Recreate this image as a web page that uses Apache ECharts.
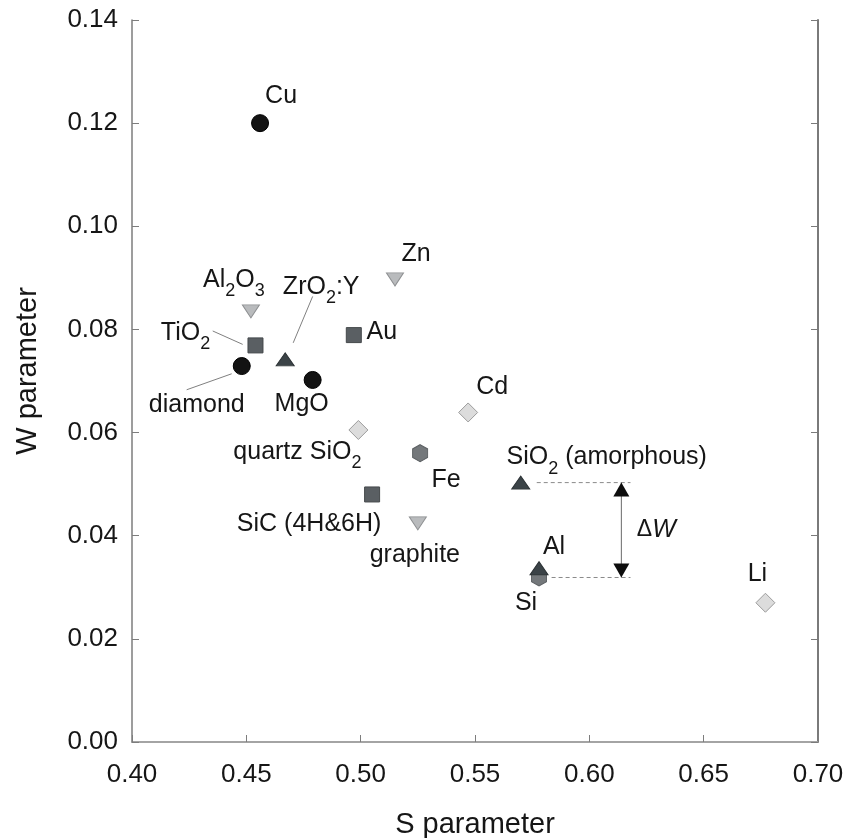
<!DOCTYPE html>
<html>
<head>
<meta charset="utf-8">
<script src="https://cdn.jsdelivr.net/npm/echarts@6/dist/echarts.min.js"></script>
<style>
  html, body { margin: 0; padding: 0; background: #ffffff; }
  #chart { width: 845px; height: 838px; }
</style>
</head>
<body>
<div id="chart"></div>
<script>
// Positron annihilation line-shape parameters of various materials
const materials = ['Cu', 'Al2O3', 'TiO2', 'diamond', 'ZrO2:Y', 'MgO', 'Au', 'Zn', 'quartz SiO2', 'Cd',
                   'Fe', 'SiC (4H&6H)', 'graphite', 'SiO2 (amorphous)', 'Si', 'Al', 'Li'];
const sParameter = [0.456, 0.452, 0.454, 0.448, 0.467, 0.479, 0.497, 0.515, 0.499, 0.547,
                    0.526, 0.505, 0.525, 0.570, 0.578, 0.578, 0.677];
const wParameter = [0.1200, 0.0835, 0.0769, 0.0729, 0.0742, 0.0702, 0.0789, 0.0897, 0.0605, 0.0639,
                    0.0560, 0.0480, 0.0424, 0.0503, 0.0319, 0.0337, 0.0270];
const markerGroup = ['circle', 'triDown', 'square', 'circle', 'triUp', 'circle', 'square', 'triDown', 'diamond', 'diamond',
                     'hexagon', 'square', 'triDown', 'triUp', 'hexagon', 'triUp', 'diamond'];
// label markup (rich text with subscripts)
const labelText = ['Cu', 'Al{sub|2}O{sub|3}', 'TiO{sub|2}', 'diamond', 'ZrO{sub|2}:Y', 'MgO', 'Au', 'Zn',
                   'quartz SiO{sub|2}', 'Cd', 'Fe', 'SiC (4H&6H)', 'graphite', 'SiO{sub|2} (amorphous)', 'Si', 'Al', 'Li'];

// axis ticks
const sTicks = [0.40, 0.45, 0.50, 0.55, 0.60, 0.65, 0.70];
const wTicks = [0.00, 0.02, 0.04, 0.06, 0.08, 0.10, 0.12, 0.14];

// ΔW annotation: between amorphous SiO2 and Si
const deltaTop = materials.indexOf('SiO2 (amorphous)');
const deltaBottom = materials.indexOf('Si');
const arrowS = 0.614;
const guideEndS = 0.618;
const guideStartS = [0.577, 0.5835];

// leader lines from labels to markers, [S, W] pairs
const leaderLines = [
  [[0.4353, 0.0797], [0.4484, 0.0771]],
  [[0.4790, 0.0864], [0.4705, 0.0774]],
  [[0.4436, 0.0714], [0.4239, 0.0683]]
];

// label placement relative to the marker (pixels)
const labelOffset = [[21, -27], [-17, -31], [-70, -12], [-45, 39], [36, -72], [-11, 24], [28, -3], [21, -25],
                     [-61, 22], [24, -25], [26, 27], [-63, 30], [-3, 32], [86, -25], [-13, 26], [15, -21], [-8, -29]];

const FONT = "'Liberation Sans', Arial, Helvetica, sans-serif";
const TEXT = '#161616';

const markerStyle = {
  circle:  { symbol: 'circle', size: 17, color: '#131313', border: '#000000' },
  square:  { symbol: 'rect', size: 15, color: '#5a5f63', border: '#45494c' },
  triUp:   { symbol: 'triangle', size: [18, 13], color: '#3b4347', border: '#2e3437', rotate: 0 },
  triDown: { symbol: 'triangle', size: [17, 13], color: '#b9bbbd', border: '#8e9092', rotate: 180 },
  diamond: { symbol: 'diamond', size: 19, color: '#dcdcdc', border: '#9c9c9c' },
  hexagon: { symbol: 'path://M0,-1L0.866,-0.5L0.866,0.5L0,1L-0.866,0.5L-0.866,-0.5Z', size: [15, 17], color: '#74787b', border: '#5c6063' }
};
const groupOrder = ['hexagon', 'circle', 'square', 'triDown', 'diamond', 'triUp'];

const labelRich = {
  sub: { fontSize: 18, lineHeight: 18, fontFamily: FONT, color: TEXT, verticalAlign: 'top', padding: [17, 0, 0, 0] }
};

const series = [];

// leader lines
leaderLines.forEach(seg => {
  series.push({
    type: 'line', data: seg, symbol: 'none', silent: true, z: 1,
    lineStyle: { color: '#808080', width: 1 }
  });
});

// dashed guides for ΔW
[deltaTop, deltaBottom].forEach((idx, k) => {
  series.push({
    type: 'line', symbol: 'none', silent: true, z: 1,
    data: [[guideStartS[k], wParameter[idx]], [guideEndS, wParameter[idx]]],
    lineStyle: { color: '#8a8a8a', width: 1, type: [4, 3] }
  });
});

// ΔW double arrow
series.push({
  type: 'line', symbol: 'none', silent: true, z: 1,
  data: [[arrowS, wParameter[deltaTop]], [arrowS, wParameter[deltaBottom]]],
  lineStyle: { color: '#6a6a6a', width: 1 }
});
series.push({
  type: 'scatter', silent: true, z: 3,
  data: [
    { value: [arrowS, wParameter[deltaTop]], symbolRotate: 0, symbolOffset: [0, 7] },
    { value: [arrowS, wParameter[deltaBottom]], symbolRotate: 180, symbolOffset: [0, -7] }
  ],
  symbol: 'triangle', symbolSize: [16, 14],
  itemStyle: { color: '#0d0d0d', opacity: 1 }
});
// ΔW caption, anchored at the arrow midpoint (tiny white anchor dot)
series.push({
  type: 'scatter', silent: true, z: 0,
  symbol: 'circle', symbolSize: 1,
  itemStyle: { color: '#ffffff', opacity: 1 },
  data: [[arrowS, (wParameter[deltaTop] + wParameter[deltaBottom]) / 2]],
  label: {
    show: true, position: 'inside', offset: [35, 0],
    formatter: '{d|\u0394}{w|W}',
    rich: {
      d: { fontSize: 23, fontFamily: FONT, color: TEXT },
      w: { fontSize: 25, fontFamily: FONT, color: TEXT, fontStyle: 'italic' }
    }
  }
});

// material markers
groupOrder.forEach(g => {
  const st = markerStyle[g];
  const data = [];
  materials.forEach((m, i) => {
    if (markerGroup[i] !== g) return;
    data.push({
      name: m,
      value: [sParameter[i], wParameter[i]],
      label: { offset: labelOffset[i], formatter: labelText[i] }
    });
  });
  series.push({
    type: 'scatter', name: g, z: 2,
    symbol: st.symbol, symbolSize: st.size, symbolRotate: st.rotate || 0,
    itemStyle: { color: st.color, borderColor: st.border, borderWidth: 1, opacity: 1 },
    label: {
      show: true, position: 'inside',
      fontSize: 25, lineHeight: 30, fontFamily: FONT, color: TEXT,
      rich: labelRich
    },
    emphasis: { disabled: true },
    data: data
  });
});

const chart = echarts.init(document.getElementById('chart'), null, { renderer: 'canvas' });
chart.setOption({
  backgroundColor: '#ffffff',
  animation: false,
  grid: { left: 132, right: 27, top: 20, bottom: 96, containLabel: false, outerBoundsMode: 'none' },
  xAxis: [
    {
      type: 'value', position: 'bottom',
      min: sTicks[0], max: sTicks[sTicks.length - 1], interval: 0.05,
      name: 'S parameter', nameLocation: 'middle', nameGap: 68,
      nameTextStyle: { fontSize: 29, fontFamily: FONT, color: TEXT },
      axisLine: { show: true, lineStyle: { color: '#7d7d7d', width: 1.5 } },
      axisTick: { show: true, inside: true, length: 7, lineStyle: { color: '#7d7d7d' } },
      axisLabel: { fontSize: 26, fontFamily: FONT, color: TEXT, margin: 20, formatter: v => v.toFixed(2) },
      splitLine: { show: false }
    },
    {
      type: 'value', position: 'top',
      min: sTicks[0], max: sTicks[sTicks.length - 1], interval: 0.05,
      axisLine: { show: true, lineStyle: { color: '#a6a6a6', width: 1.5 } },
      axisTick: { show: false }, axisLabel: { show: false }, splitLine: { show: false }
    }
  ],
  yAxis: [
    {
      type: 'value', position: 'left',
      min: wTicks[0], max: wTicks[wTicks.length - 1], interval: 0.02,
      name: 'W parameter', nameLocation: 'middle', nameGap: 90,
      nameTextStyle: { fontSize: 29, fontFamily: FONT, color: TEXT, padding: [0, 0, 0, 20] },
      axisLine: { show: true, lineStyle: { color: '#7d7d7d', width: 1.5 } },
      axisTick: { show: true, inside: true, length: 7, lineStyle: { color: '#7d7d7d' } },
      axisLabel: { fontSize: 26, fontFamily: FONT, color: TEXT, margin: 14, formatter: v => v.toFixed(2) },
      splitLine: { show: false }
    },
    {
      type: 'value', position: 'right',
      min: wTicks[0], max: wTicks[wTicks.length - 1], interval: 0.02,
      axisLine: { show: true, lineStyle: { color: '#7a7a7a', width: 2 } },
      axisTick: { show: true, inside: true, length: 7, lineStyle: { color: '#7a7a7a' } },
      axisLabel: { show: false }, splitLine: { show: false }
    }
  ],
  series: series
});
</script>
</body>
</html>
